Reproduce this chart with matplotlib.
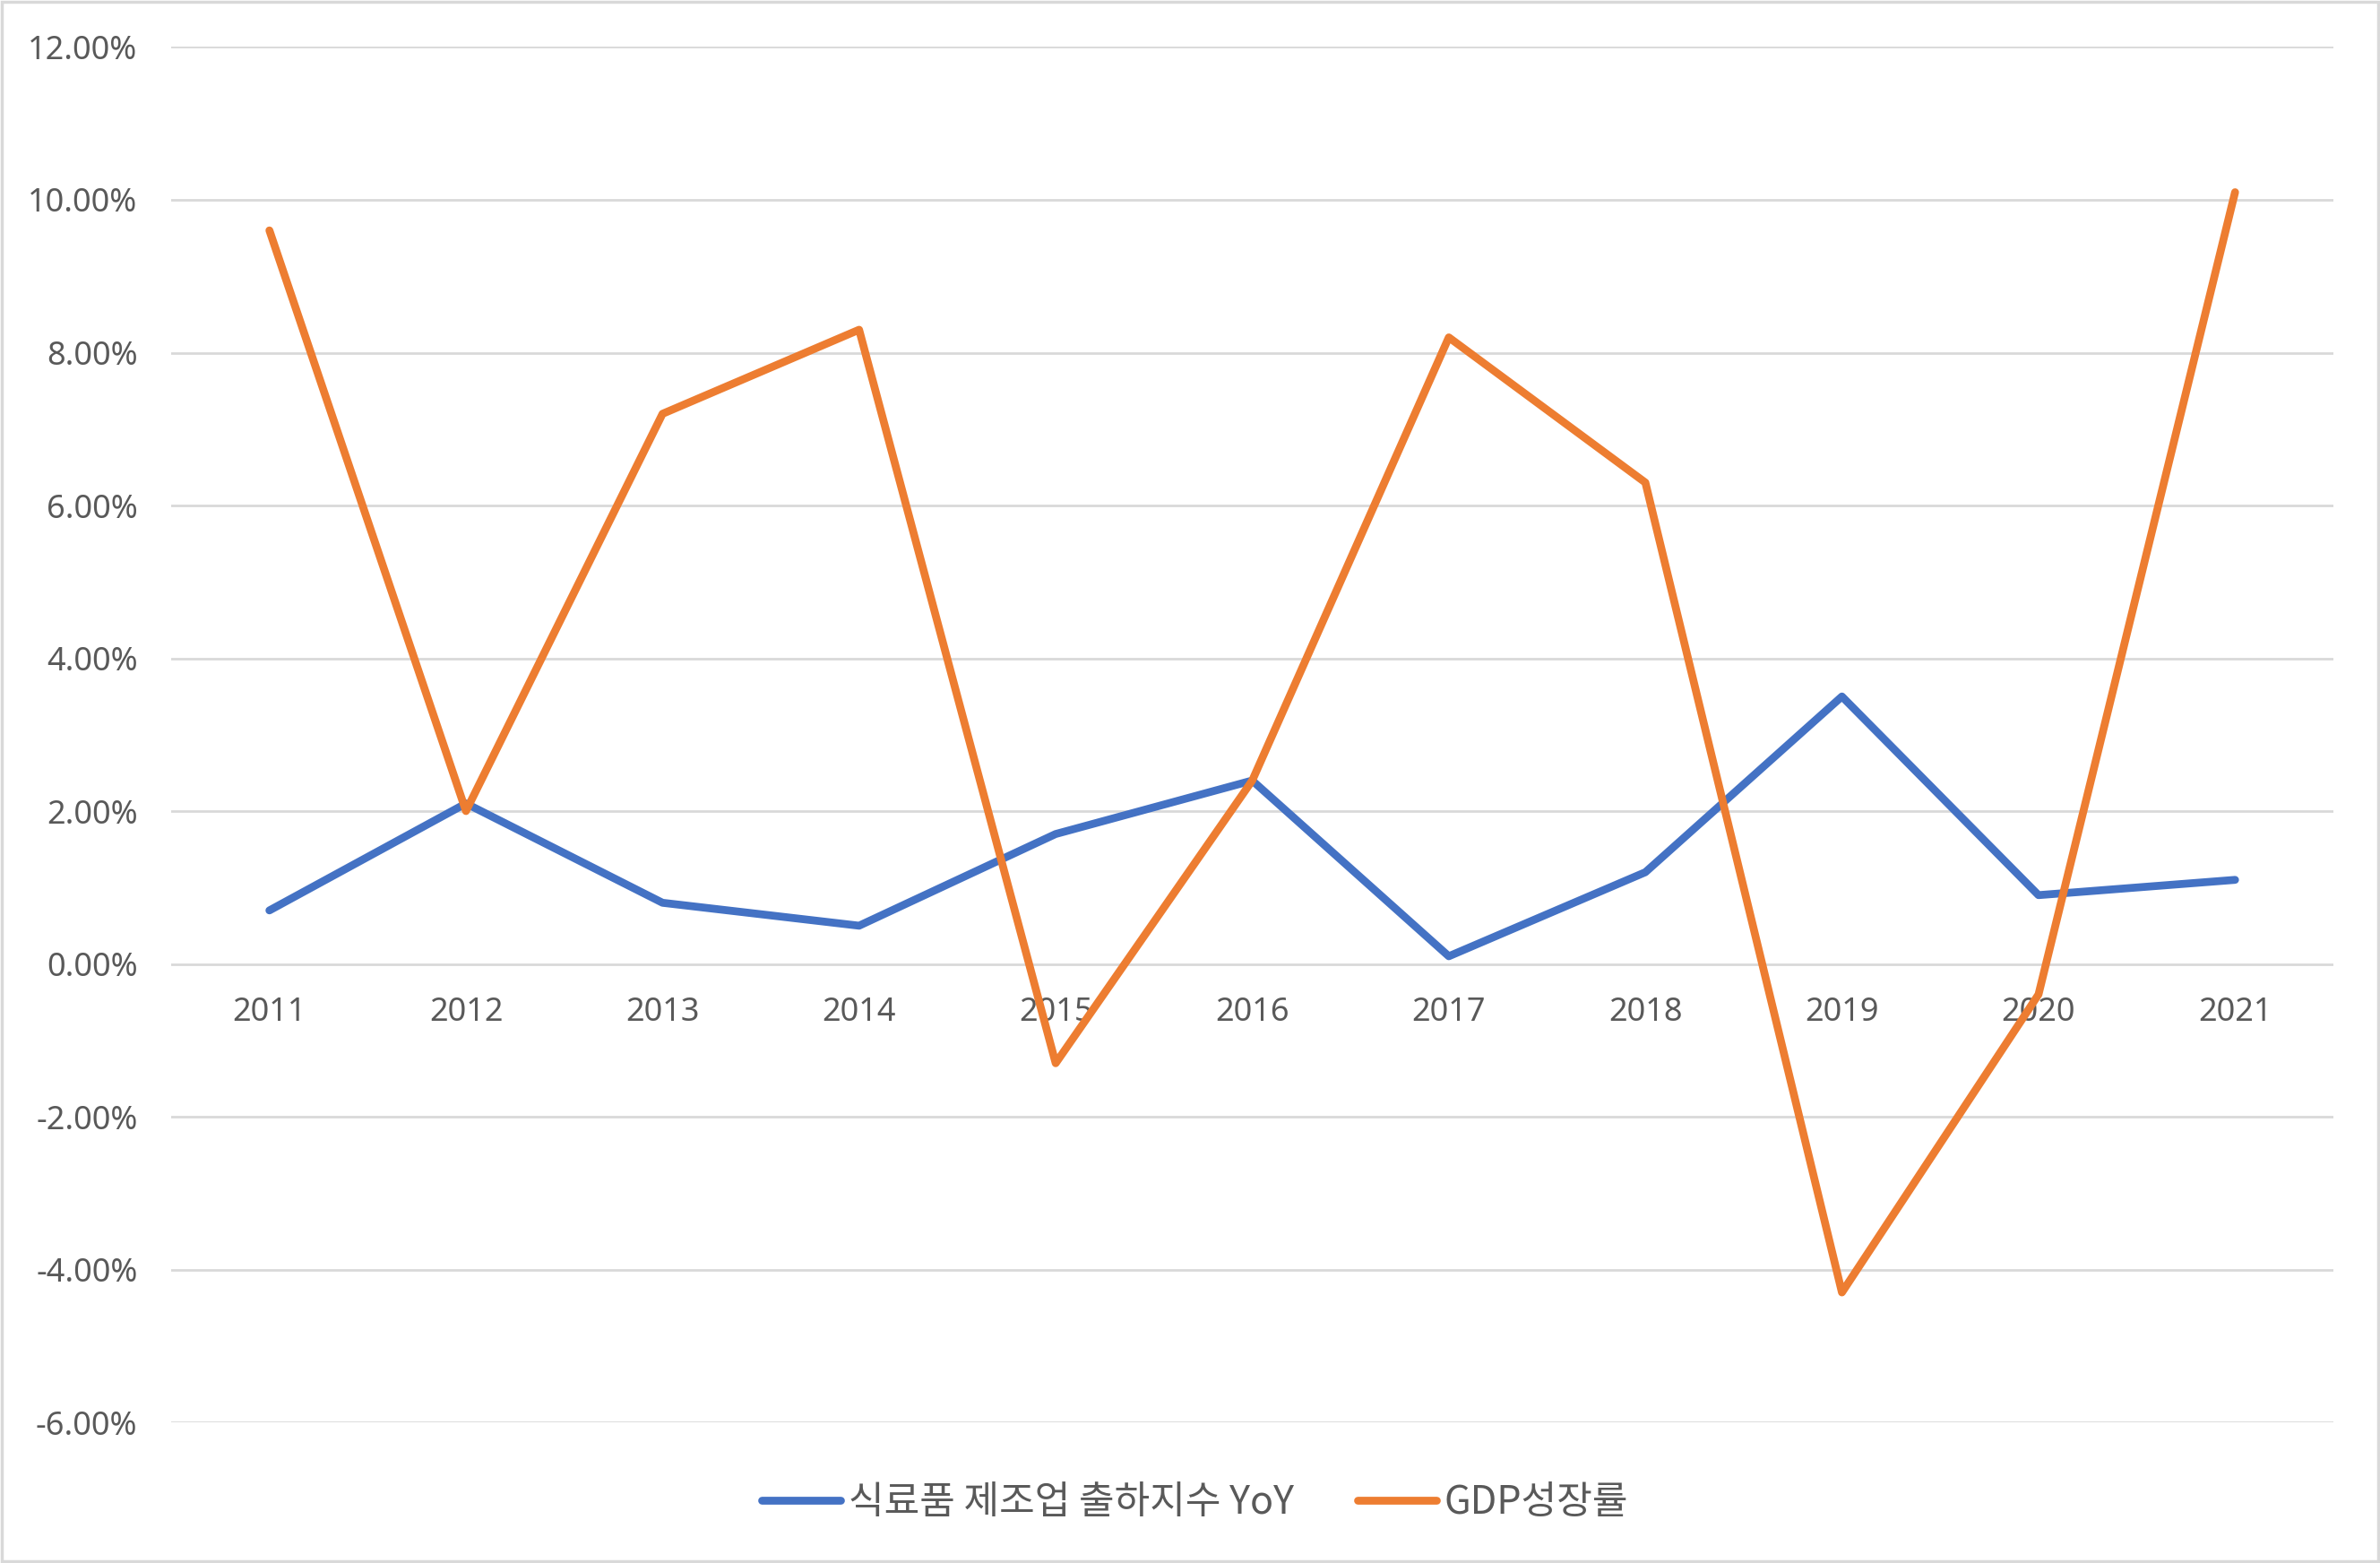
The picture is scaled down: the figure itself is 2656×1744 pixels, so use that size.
"""
Food manufacturing shipment index YoY vs GDP growth (2011-2021)
"""

import matplotlib
matplotlib.use('Agg')
import matplotlib.pyplot as plt
from matplotlib.patches import Rectangle
from matplotlib.ticker import FuncFormatter

years = ['2011', '2012', '2013', '2014', '2015', '2016',
         '2017', '2018', '2019', '2020', '2021']
food_yoy = [0.7, 2.1, 0.8, 0.5, 1.7, 2.4, 0.1, 1.2, 3.5, 0.9, 1.1]
gdp_growth = [9.6, 2.0, 7.2, 8.3, -1.3, 2.4, 8.2, 6.3, -4.3, -0.4, 10.1]
series_names = ['식료품 제조업 출하지수 YoY', 'GDP성장률']

plt.rcParams['font.family'] = ['Noto Sans CJK KR', 'DejaVu Sans']

fig = plt.figure(figsize=(26.56, 17.44), dpi=100)
ax = fig.add_axes([0.0719, 0.090, 0.9085, 0.8799])

x = range(len(years))
ax.plot(x, food_yoy, color='#4472C4', linewidth=6.3,
        solid_capstyle='round', solid_joinstyle='round', label=series_names[0], zorder=3)
ax.plot(x, gdp_growth, color='#ED7D31', linewidth=6.3,
        solid_capstyle='round', solid_joinstyle='round', label=series_names[1], zorder=4)

ax.set_xlim(-0.5, len(years) - 0.5)
ax.set_ylim(-6, 12)
ax.set_yticks(range(-6, 13, 2))
ax.yaxis.set_major_formatter(FuncFormatter(lambda v, p: f'{v:.2f}%'))
ax.set_xticks(list(x))
ax.set_xticklabels(years)

# horizontal axis crosses at zero, like the spreadsheet chart
for side in ['top', 'right', 'left']:
    ax.spines[side].set_visible(False)
ax.spines['bottom'].set_position(('data', 0))
ax.spines['bottom'].set_visible(False)

ax.grid(axis='y', color='#D9D9D9', linewidth=2)
ax.set_axisbelow(True)
ax.tick_params(axis='both', length=0, labelsize=26, labelcolor='#595959')
ax.tick_params(axis='y', pad=27)
ax.tick_params(axis='x', pad=26)
for lab in ax.get_xticklabels() + ax.get_yticklabels():
    lab.set_family('Noto Sans')

fig.legend(loc='center', bbox_to_anchor=(0.502, 0.0384), ncol=2, frameon=False,
           fontsize=31, handlelength=2.05, handletextpad=0.2, columnspacing=1.65,
           labelcolor='#595959')

# light frame around the whole chart
fig.patches.append(Rectangle((0.0008, 0.0012), 0.9984, 0.9976, transform=fig.transFigure,
                             fill=False, edgecolor='#D9D9D9', linewidth=2.5))

plt.savefig('out.png', dpi=100)
plt.close()
